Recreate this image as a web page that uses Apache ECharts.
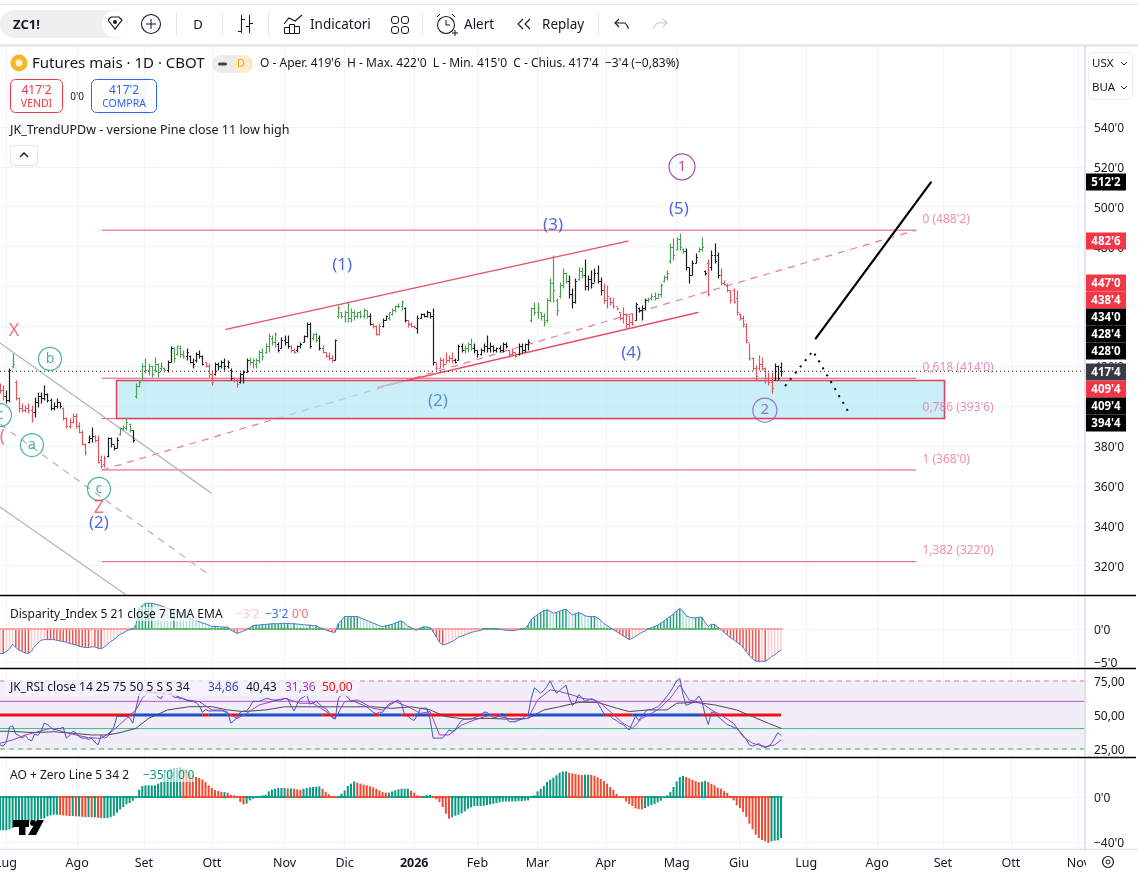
<!DOCTYPE html>
<html><head><meta charset="utf-8">
<style>html,body{margin:0;padding:0;background:#fff}#c{width:1138px;height:874px}</style>
<script src="https://cdn.jsdelivr.net/npm/echarts@6/dist/echarts.min.js"></script>
</head><body><div id="c"></div>
<script>
const FONT = '"Noto Sans","Open Sans",sans-serif';
const highs = [
411.5,410.6,408,419,426.5,413,404.8,401.4,400.6,401.4,400.6,404.8,407.3,407.3,410.6,406.4,403.9,402.3,403.9,402.3,
399.8,394.7,393.9,396.4,396.4,392.2,388,381.4,385.5,389.7,385.5,385.5,375.5,375.5,384.7,384.7,380.5,384.7,389.7,390.6,
393.9,391.4,388,411.5,413.1,421.5,424,421.5,420.7,424.5,421.5,422.3,419.8,423.2,430.2,429.9,430.7,430.7,428.2,429,
425.7,424,427.3,428.2,425.7,422.3,421.5,418.1,422.3,422.3,423.2,424,423.2,419,414.8,414,417.3,418.1,424,424.8,
424,424,428.2,429,431.5,436.5,435.7,437.4,432.4,434.9,435.7,435.7,430.7,429,430.7,432.4,435.7,442.4,442.4,436.5,
437.4,435.7,430.7,427.3,427.3,425.7,433.5,450.8,447.4,448.2,452.4,449,448.2,447.4,448.2,449,448.2,446.6,441.6,440.7,
441.6,444,445.7,447.4,449,450.8,
451.6,453.3,449.9,443.2,442.4,440.7,445.7,446.6,446.9,448.2,447.4,449.1,422.3,424.8,424,427.3,425.7,427.3,424,431.2,
431.5,430.7,432.4,434,431.9,428.2,429,431.5,435.7,432.4,430.7,429.9,430.7,432.4,432.4,428.2,429,427.3,431.5,431.5,
431.5,433.5,449.9,452.4,452.4,447.4,446.6,454.1,464.1,475.8,454.1,462.5,469.2,467.5,465.8,459.1,464.1,470,470,473.7,
465.8,468.3,469.2,470.8,465,461.6,460.8,454.9,454.9,449.9,447.4,449.9,446.6,445.7,446.6,452.4,449.9,450.8,454.1,454.9,
456.6,457.4,456.6,461.6,465.8,468.3,481.7,484.2,485,487,479.2,479.2,470,473.3,476.7,480,484.7,468.3,473.7,478.4,
481.7,477.5,469.2,463.3,461.6,458.3,459.1,458.3,446.6,445.7,441.6,431.5,424.8,420.7,425.7,424.8,419.8,417.3,417.3,421.5,
420.7,422];
const lows = [
406.5,403.1,401.4,402.3,419,403,397.2,397.2,397.2,396.4,392.2,394.7,399.8,401.4,403.1,402.3,398,398,398.9,398.9,
393.1,388.9,388.9,391.4,388.9,386.4,380.5,375.5,381.4,382.2,382.2,371.3,368.8,369.7,374.7,379.7,378,378.9,385.5,388,
388,387.2,382.2,403.9,409.8,413.1,416.5,415.6,414.8,417.3,414.8,418.1,417.3,417.3,422.3,422.3,425.7,424.8,424,423.2,
421.5,419,422.3,424,420.7,419.8,414.8,410.6,415.6,418.1,419,418.1,419,413.1,412.3,409.8,411.5,411.5,417.3,420.7,
419,419,421.5,423.2,426.5,427.3,430.7,429.9,427.3,429,430.7,429,427.3,426.5,427.3,429,432.4,434.9,429,433.2,
432.4,428.2,426.5,424.8,423.2,422.3,423.2,444,444,442.4,442.4,442.4,443.2,444,444,444,444,440.7,439,435.7,
435.7,439.9,443.2,443.2,445.7,447.4,
449.1,448.2,442.4,439.9,439.6,439,436.5,444,444.6,444.9,444,420.7,418.1,419,419.8,421.5,422.3,421.5,421.5,423.2,
427.3,426.5,427.3,428.2,426.8,424.8,425.7,427.3,427.3,427.3,427.3,427.3,427.3,427.3,429,424.8,425.7,424.8,425.7,426.5,
427.3,428.2,442.4,445.7,444,443.2,440.2,442.4,452.4,452.4,445.7,454.1,459.1,461.6,454.1,449.1,451.6,463.3,464.1,458.3,
458.3,459.1,462.5,461.6,455.8,451.6,449.1,450.8,449.1,448.2,443.2,441.6,439,439.9,440.7,443.2,447.4,443.2,448.2,452.4,
453.3,453.3,454.1,454.9,462.5,463.3,471.7,473.3,478.4,478.4,476.7,468.3,461.6,465.8,471.7,477.5,478,465.8,455.3,468.3,
471.7,464.1,460.8,460.8,457.4,451.6,451.6,445.7,443.2,439.9,431.5,423.2,418.1,413.1,418.1,418.1,411.5,410.6,406.8,413.1,
413.1,415];
const opens = [
411,408,405,403,420,412,404,399,398,399,398,397,402,405,404,406,403,399,400,402,
399,394,390,392,395,390,387,381,382,384,385,383,373,371,375,384,381,379,386,389,
389,391,388,405,410,413,420,418,420,418,421,419,419,418,422,429,426,429,426,425,
425,422,423,426,425,422,420,416,416,421,420,422,420,418,414,413,412,416,417,423,
422,421,423,427,427,430,434,432,431,429,433,432,430,428,428,430,432,435,441,434,
436,434,429,427,425,424,423,445,447,445,447,444,447,445,447,445,448,445,441,440,
436,440,443,444,446,448,
450,450,449,443,441,440,439,444,446,445,447,445,422,419,423,421,423,424,423,423,
430,428,429,431,429,428,426,428,430,429,430,428,429,428,431,428,426,427,426,430,
428,431,443,449,447,447,445,443,453,462,453,455,461,467,463,456,452,464,468,466,
460,464,462,467,463,458,453,454,452,450,447,444,446,441,442,443,449,448,449,453,
454,455,454,456,463,465,473,480,479,484,479,478,470,466,472,478,479,468,472,470,
476,476,466,462,461,458,458,454,446,444,440,432,424,419,419,421,419,413,412,413,
420,419.75];
const closes = [
408,405,403,418,421,404,399,398,399,398,397,402,405,404,406,403,399,400,402,400,
394,390,392,395,390,387,381,377,384,385,383,372,370,374,384,381,379,383,389,389.5,
392,388,383,410,412,420,418,420,416,421,417,420,418,422,429,424,430,426,425,427,
422,421,426,425,421,420,416,412,421,420,422,420,422,414,413,411,416,417,423,422,
423,423,427,425,430,435,432,436,428,433,432,430,428,427,430,431,435,441,430,436,
433,429,427,425,424,423,433,449,445,447,444,447,445,447,445,448,445,441,440,436,
440,443,445,447,448,450,
450,452,443,441,440,439.5,444,446,445,447,445,422,419,423,421,423,424,423,422,430,
428,429,431,429,428,426,428,430,429,430,428,429,428,431,430,426,427,425,430,428,
431,432,449,447,449,445,442,453,462,458,448,461,467,463,456,452,463,468,466,460,
464,462,467,463,458,453,455,452,450,449,444,446,441,442,441,451,448,449,453,453.5,
455,454,456,461,465,467,480,476,484,480,478,470,466,472,475,479,480,467,456,476,
473,466,462,461.5,458,453,452,447,444,441,433,424,419,415,421,419,413,412,409,420,
414,417.5];
const barColors = ('rrkkgrrrrrrkkkkkkkkkrrrrrrrrkkrrrrkkkkggggkggggggggggkkggggkkkkkkrrrkkkkkkrrkkkggggggggg'+
 'kkkkrrkkkkkggkrrrrkggggggggggkrrrkkggg'+
 'ggkrrrkkkkkkrrrrrrkkkgggkkkkkkkkkkkrrrkkkkggggggggggggkkkggkkkkkkrrrrrrrrrrkkkkggggggggggggkkkkggkrkkkrrrrrrrrrrrrrrrrrkkk').split('');
const disparity = [
-3.7,-3.7,-3.4,-3,-2.3,-2.8,-3.2,-3.4,-3.6,-3.7,-3.3,-2.6,-2.1,-1.7,-1.6,-1.6,-1.6,-1.6,-1.7,-1.8,
-1.9,-2,-2.2,-2.3,-2.4,-2.6,-2.7,-2.8,-2.8,-2.7,-2.7,-2.9,-3,-2.7,-2.3,-1.9,-1.6,-1.2,-.8,-.6,
-.3,-.1,0,.6,3.1,3.5,3.9,3.9,3.9,3.8,3.7,3.5,3.3,3.1,3,3,2.9,2.5,2.2,1.9,
1.7,1.4,1.3,1.1,.9,.8,.6,.4,.4,.35,.3,.3,.3,-.15,-.4,-.65,-.5,-.3,-.1,.2,
.5,.6,.6,.7,.7,.75,.8,.8,.8,.85,.85,.85,.8,.8,.75,.7,.65,.6,.6,.5,
.5,.2,.1,-.15,-.3,-.45,-.5,.85,1.3,1.9,1.9,1.9,1.9,1.9,1.7,1.5,1.3,1.1,.9,.7,
.5,.35,.5,.6,.7,.9,1.1,1.2,.9,.4,.25,-.1,-.15,.2,.35,.3,.25,-.4,-1.2,-2,
-2.4,-2.3,-2.1,-1.9,-1.6,-1.2,-1.1,-.9,-.7,-.5,-.4,-.3,-.2,0,.1,0,.1,0,-.05,-.1,
-.2,-.2,-.25,-.2,-.1,0,.1,.6,1.4,1.8,2.2,2.5,2.8,2.9,2.7,2.4,2.5,2.7,2.9,3,
2.6,2.1,2.3,2.5,2.3,2,1.9,1.9,1.9,1.7,1.3,.85,.5,.2,-.1,-.4,-.7,-1,-1.3,-1.6,
-1.4,-1.1,-.8,-.5,-.3,0,.2,.4,.6,.9,1.2,1.6,1.9,2.3,2.7,3.1,2.7,2,1.8,1.7,
1.7,1.8,1.8,1,.4,.7,.7,.3,-.1,-.5,-.9,-1.3,-1.6,-2,-2.3,-2.8,-3.4,-4,-4.5,-4.85,
-4.9,-4.85,-4.9,-4.6,-4.2,-3.9,-3.5,-3.2];
const rsiFast = [
28,27,30,41,42,36,35,33,35,32,31,36,35,38,44,43,41,39,40,40,
41,33,35,38,37,34,33,33,32,33,30,28,35,33,34,38,41,49,49,49,
49,48,44,55,65,68,68,67,67,66,63,62,67,68,66,63,63,62,62,61,
60,60,59,57,52,54,53,53,53,53,53,53,52,44,46,48,52,53,53,56,
60,60,60,61,62,62,61,61,61,61,62,62,57,53,58,62,63,65,58,59,
60,58,56,55,52,48,47,62,65,65,63,60,60,59,58,57,56,54,52,51,
52,52,55,58,59,60,61,58,50,49,47,46,50,55,55,55,47,33,33,33,
33,36,39,38,39,43,46,47,47,47,48,49,50,52,52,50,48,48,50,51,
48,45,45,45,46,47,49,50,62,70,68,66,68,71,75,70,66,68,70,72,
63,57,59,65,63,60,61,62,61,59,55,51,50,49,47,46,44,43,41,39,
44,49,46,49,52,54,54,55,56,58,61,64,67,71,75,77,65,57,58,59,
61,64,60,50,43,52,52,49,47,45,43,42,41,40,38,35,32,28,27,28,
29,27,26,27,29,33,37,35];
const rsiSmoothBars = [0,4,8,12,16,20,24,28,32,36,40,43,45,47,51,55,59,63,67,70,75,78,82,86,90,95,99,104,106,109,113,118,121,125,129,133,136,139,142,146,150,155,158,163,167,170,174,177,181,184,188,190,193,197,200,203,208,212,215,218,222,225,228,232,235,238,242,245,247];
const rsiSmooth = [29.2,31.6,35.3,37.7,40.2,37.7,35.3,33.3,32.8,39,47.5,53.7,62.3,67.2,65.9,64.7,61,59.8,53.7,53.7,47.5,51.2,57.4,59.8,62.3,58.6,58.6,51.2,47.5,59.8,61,54.9,53.7,59.8,56.1,51.2,52.5,35.3,35.3,42.6,46.3,50,48.8,46.3,47.5,61,68.4,67.2,64.7,62.3,61,58.6,52.5,43.9,40.2,47.5,53.7,62.3,72,61,58.6,53.7,50,43.9,34,29.2,26.7,27.9,31.6];
const rsiLongBars = [0,3,11,17,23,29,34,38,43,47,53,60,67,72,77,84,90,97,104,111,118,124,130,136,141,147,154,160,167,172,177,183,189,195,199,205,211,214,220,226,233,238,243,247];
const rsiLong = [38,38,37,37.7,36.5,35.3,35.3,37,40.2,47.5,53.7,56.1,56.1,53.7,52.5,53.7,56,56,56,56,56,54.9,56,53.7,48.8,47,47.5,47,47.5,53.7,56,59.3,59.3,55,52.5,53.7,53.7,58.6,59.3,57.4,53.7,48.8,43.9,40.2];
const rsiTrendStart = [0,42,64,66,72,75,102,106,118,120,127,131,136,153,155,158,160,167,191,200,222];
const rsiTrendEnd = [42,64,66,72,75,102,106,118,120,127,131,136,153,155,158,160,167,191,200,222,247];
const rsiTrendUp = [0,1,0,1,0,1,0,1,0,1,0,1,0,1,0,1,0,1,0,1,0];
const ao = [
-29.6,-29.6,-29.6,-28.7,-27.6,-26,-24.9,-23.7,-23,-22,-21.6,-21,-20.7,-19.5,-19,-17.2,-16.3,-15.7,-15.7,-16,
-16.3,-16.6,-16.9,-16.9,-17.2,-17.2,-17.5,-17.8,-17.8,-18,-18,-18.4,-18.7,-18.7,-18.7,-18,-16.6,-13.9,-11,-8.9,
-6.5,-5.3,-3.3,-.9,6.5,9.8,10.4,10.4,10.4,10.4,11.9,13.3,20.7,23.7,25.2,25.8,25.8,26.1,25.2,23.7,
21.6,19.3,17.8,16.9,15.7,13.3,10.4,8,6.2,5.3,4.4,4.4,3.9,2,1.5,0,-4.4,-6.5,-5.9,-3,
-1.5,-.9,.9,1.5,2,5,6.5,7.4,8,8,8,7.7,7.7,7.4,6.8,6.5,7.4,8,8.6,8.9,
9.2,9.5,7.4,4.4,2.4,.9,-.6,0,3,5.9,9.8,11.9,13.9,12.7,11.9,11,10.4,9.5,8.6,7.4,
5.9,4.4,3.9,3.9,5,5.9,6.8,7.4,7.4,7.4,5.6,3.9,1.5,.3,.3,1.8,2,0,-2,-4.4,
-8.9,-14.8,-19.3,-18,-16.6,-15.7,-14.5,-12.7,-10.4,-9.2,-8,-8,-8,-7.7,-7.1,-6.5,-5.9,-5.3,-4.7,-4.1,
-3.9,-3.9,-3.9,-3.9,-3.6,-3.6,-3.3,-3,-.9,1.5,5,7.4,9.8,13.3,15.4,17.2,19.3,21.6,22.8,22.8,
21.6,21,20.4,19.9,19.6,19.9,19.9,19.6,19,17.5,16,14.2,11.9,8.9,6.5,2.7,0,-.9,-3.9,-6.2,
-8,-10,-10.7,-11,-9.8,-8.3,-7.1,-6.2,-4.7,-3.3,-.6,1.5,4.4,8.9,13.9,17.5,18.7,17.8,16.6,15.4,
14.2,13.3,13.6,14.5,13.3,11.6,10.4,8.3,7.4,5.3,3.6,.9,-3,-7.4,-9.8,-13.3,-17.8,-23.7,-28.7,-33.5,
-36.4,-38.2,-39.4,-40.6,-39.4,-38.8,-38.5,-36.4];
const monthLabels = ['Lug','Ago','Set','Ott','Nov','Dic','2026','Feb','Mar','Apr','Mag','Giu','Lug','Ago','Set','Ott','Nov'];
const monthBars = [1.9,24.4,45.5,67,90,109,131,151,170,191.6,214,233.7,255,277.4,298.2,319.7,341];
const priceTicks = [320,340,360,380,400,420,440,460,480,500,520,540];
const fibLevels = [488.25,414,393.75,368,322];
const noteTexts = ['X','b','c','a','c','Z','(2)','(1)','(3)','(5)','1','(4)','(2)','2','(',"0 (488'2)","0,618 (414'0)","0,786 (393'6)","1 (368'0)","1,382 (322'0)"];
const noteBars = [4.4,15.8,0,10.1,31.3,31.3,31.3,108.2,174.9,214.7,215.7,199.6,138.5,241.9,0.8,291.6,291.6,291.6,291.6,291.6];
const notePrices = [437.7,423.7,395.5,380.5,358.5,348.9,341.5,470.8,490.9,498.9,520,426.5,402.5,398,384.5,493.4,419.4,399.3,373.2,327.6];
const noteKinds = ['red','ring','ring','ring','ring','red','blue','blue','blue','blue','purple','blue','sky','violet','red','fib','fib','fib','fib','fib'];
const tagTexts = ["512'2","482'6","447'0","438'4","434'0","428'4","428'0","417'4","409'4","409'4","394'4"];
const tagKinds = ['k','r','r','r','k','k','k','d','r','k','k'];
const tagRows = [182,241,283,300,317,334,351,372,389,406,423];

const XMAX = 1085/(781/(highs.length-1));
const panes = [{top:46,height:549},{top:596,height:72},{top:669,height:88},{top:758,height:91}];
const GRID = '#f0f3fa';
const grids = panes.map(p=>({left:0,width:1085,top:p.top,height:p.height,outerBoundsMode:'none'}));
const xAxes = panes.map((p,i)=>({
  type:'value',gridIndex:i,min:0,max:XMAX,
  axisLine:{show:false},
  axisTick:{show:false,customValues:monthBars},
  splitLine:{show:true,lineStyle:{color:GRID,width:1}},
  axisLabel:i<3?{show:false}:{show:true,customValues:monthBars,margin:8,hideOverlap:false,showMinLabel:true,showMaxLabel:true,
    color:'#131722',fontFamily:FONT,fontSize:12.5,
    formatter:v=>{const k=monthBars.indexOf(v);return k<0?'':(monthLabels[k]==='2026'?'{b|2026}':monthLabels[k]);},
    rich:{b:{fontWeight:'bold',fontFamily:FONT,fontSize:12.5,color:'#131722'}}}
}));
function yAxis(i,min,max,vals,fmt){
  return {type:'value',gridIndex:i,position:'right',min,max,scale:true,
    axisLine:{show:false},axisTick:{show:false,customValues:vals},
    splitLine:{show:true,lineStyle:{color:GRID,width:1}},
    axisLabel:{customValues:vals,margin:9,showMinLabel:true,showMaxLabel:true,
      formatter:v=>'{p|'+fmt(v)+'}',
      rich:{p:{color:'#131722',fontFamily:FONT,fontSize:12,padding:[3,0,0,0]}}}};
}
const yAxes = [
  yAxis(0,305.3,580.6,priceTicks,v=>v+"'0"),
  yAxis(1,-5.9,5,[-5,0],v=>v===0?"0'0":"−5'0"),
  yAxis(2,19.1,83.8,[25,50,75],v=>v+',00'),
  yAxis(3,-46.2,34.7,[-40,0],v=>v===0?"0'0":"−40'0")
];
const PINK='#e0527f', RED='#ec4f63', GRAY='#b4b7bf';
function seg(pane,pts,color,width,type,z){
  return {type:'line',xAxisIndex:pane,yAxisIndex:pane,data:pts,showSymbol:false,silent:true,z:z||3,clip:true,
    lineStyle:{color,width,type:type||'solid',cap:type?'butt':'round'},animation:false};
}
const barTone={r:'#e8525a',g:'#4c9f50',k:'#1a1c22'};
const series=[];
fibLevels.forEach(v=>series.push(seg(0,[[32.3,v],[289.7,v]],PINK,1)));
series.push(seg(0,[[32.3,368],[289.7,488.25]],'#e77c9e',1.2,[7,6]));
series.push(seg(0,[[71.5,438.5],[198.6,482.75]],RED,1.5));
series.push(seg(0,[[119.5,409.5],[220.7,447]],RED,1.5));
// translucent zone, above the trend lines and under the price bars
series.push({type:'custom',xAxisIndex:0,yAxisIndex:0,z:3.5,clip:true,data:[[36.7,413,298.5,393.75]],
  renderItem:(p,api)=>{const a=api.coord([api.value(0),api.value(1)]),b=api.coord([api.value(2),api.value(3)]);
    return {type:'rect',shape:{x:Math.round(a[0])+.5,y:Math.round(a[1])+.5,width:Math.round(b[0]-a[0]),height:Math.round(b[1]-a[1])},
      style:{fill:'rgba(178,232,242,.68)',stroke:'#e23f5e',lineWidth:1.5}};}});
series.push(seg(0,[[0,431.7],[66.7,356.5]],GRAY,1.3));
series.push(seg(0,[[0,391],[65.8,315.8]],GRAY,1.3,[7,6]));
series.push(seg(0,[[0,349.4],[39.5,305.8]],GRAY,1.3));
series.push(seg(0,[[0,417.5],[XMAX,417.5]],'#222',1,[1,3]));
// OHLC
series.push({type:'custom',xAxisIndex:0,yAxisIndex:0,z:4,clip:true,
  data:highs.map((h,i)=>[i,opens[i],h,lows[i],closes[i]]),
  renderItem:(p,api)=>{
    const i=api.value(0),x=Math.round(api.coord([i,0])[0])+.5,c=barTone[barColors[p.dataIndex]]||'#000';
    const Y=v=>Math.round(api.coord([i,v])[1])+.5;
    const st={stroke:c,lineWidth:1.2};
    return {type:'group',children:[
      {type:'line',shape:{x1:x,y1:Y(api.value(2)),x2:x,y2:Y(api.value(3))},style:st},
      {type:'line',shape:{x1:x-1.5,y1:Y(api.value(1)),x2:x,y2:Y(api.value(1))},style:st},
      {type:'line',shape:{x1:x,y1:Y(api.value(4)),x2:x+1.5,y2:Y(api.value(4))},style:st}]};
  }});
series.push(seg(0,[[258,434],[294.4,512.25]],'#000',2.2,'',5));
series.push(seg(0,[[248.3,410.1],[257.1,427.7],[268.5,396.6]],'#000',2,[2,6],5));
// annotations
const noteStyle={red:{c:'#e8505f',f:18},blue:{c:'#1f46d6',f:17},sky:{c:'#3d78e2',f:17},purple:{c:'#9420a8',f:15,ring:26},violet:{c:'#7a58c2',f:15,ring:24},ring:{c:'#1f9d8a',f:14,ring:23},fib:{c:'#e8709f',f:12}};
series.push({type:'scatter',xAxisIndex:0,yAxisIndex:0,z:6,clip:false,silent:true,
  data:noteTexts.map((t,i)=>{const s=noteStyle[noteKinds[i]];return {
    value:[noteBars[i],notePrices[i]],
    symbol:'circle',symbolSize:s.ring||1,
    itemStyle:s.ring?{color:'rgba(255,255,255,0)',borderColor:s.c,borderWidth:1.2}:{color:'rgba(0,0,0,0)'},
    label:{show:true,position:noteKinds[i]==='fib'?'right':'inside',distance:0,formatter:t,color:s.c,fontSize:s.f,fontFamily:FONT}};})});
// histograms
function histogram(pane,arr,width,colorFn){
  return {type:'custom',xAxisIndex:pane,yAxisIndex:pane,z:2,clip:true,data:arr.map((v,i)=>[i,v]),
    renderItem:(p,api)=>{const a=api.coord([api.value(0),0]),b=api.coord([api.value(0),api.value(1)]);
      return {type:'rect',shape:{x:a[0]-width/2,y:Math.min(a[1],b[1]),width,height:Math.abs(b[1]-a[1])},style:{fill:colorFn(api.value(1),p.dataIndex)}};}};
}
function zeroStrip(pane,arr,colorFn){
  return {type:'custom',xAxisIndex:pane,yAxisIndex:pane,z:3,clip:true,data:arr.map((v,i)=>[i,v]),
    renderItem:(p,api)=>{const i=api.value(0),a=api.coord([i-.5,0]),b=api.coord([i+.5,0]);
      return {type:'rect',shape:{x:a[0],y:a[1]-1,width:b[0]-a[0],height:2},style:{fill:colorFn(api.value(1),p.dataIndex)}};}};
}
series.push(histogram(1,disparity,1.5,(v,i)=>{const grow=i>0&&Math.abs(v)>=Math.abs(disparity[i-1]);
    return v<0?(grow?'#ef5350':'#fbcdd0'):(grow?'#26a17f':'#b2dfdb');}));
series.push(seg(1,disparity.map((v,i)=>[i,v]),'#4a78cf',1,'',4));
series.push(zeroStrip(1,disparity,v=>v<0?'#fa9e9e':'#5fb36a'));
// rsi
series.push({type:'custom',xAxisIndex:2,yAxisIndex:2,z:1,clip:true,data:[[0,75,XMAX,25]],
  renderItem:(p,api)=>{const a=api.coord([api.value(0),api.value(1)]),b=api.coord([api.value(2),api.value(3)]);
    return {type:'rect',shape:{x:a[0],y:a[1],width:b[0]-a[0],height:b[1]-a[1]},style:{fill:'#f1edf9'}};}});
series.push(seg(2,[[0,75],[XMAX,75]],'#e57c7c',1,[5,4]));
series.push(seg(2,[[0,25],[XMAX,25]],'#4ca25a',1,[5,4]));
series.push(seg(2,[[0,60],[XMAX,60]],'#c24fd6',1));
series.push(seg(2,[[0,40],[XMAX,40]],'#36c27f',1));
series.push({type:'custom',xAxisIndex:2,yAxisIndex:2,z:3,clip:true,
  data:rsiTrendStart.map((s,i)=>[s,rsiTrendEnd[i],50,rsiTrendUp[i]]),
  renderItem:(p,api)=>{const a=api.coord([api.value(0),api.value(2)]),b=api.coord([api.value(1),api.value(2)]);
    return {type:'rect',shape:{x:a[0],y:a[1]-1.5,width:b[0]-a[0],height:3},style:{fill:api.value(3)?'#1d4ec9':'#f01010'}};}});
series.push(seg(2,rsiLongBars.map((b,i)=>[b,rsiLong[i]]),'#4a4a52',1,'',4));
series.push(seg(2,rsiSmoothBars.map((b,i)=>[b,rsiSmooth[i]]),'#a03fc4',1,'',4));
series.push(seg(2,rsiFast.map((v,i)=>[i,v]),'#4656b8',1,'',5));
// AO
const aoColor=(v,i)=>(i===0||v>=ao[i-1])?'#089981':'#f0492f';
series.push(histogram(3,ao,2,aoColor));
series.push(zeroStrip(3,ao,aoColor));

// chrome
const G=[];
const T=(text,x,y,o={})=>G.push({type:'text',z:100,silent:true,x,y:y+1,style:{text,fill:o.c||'#131722',font:(o.w||'normal')+' '+(o.s||13)+'px '+(o.f||FONT),textAlign:o.a||'left',textVerticalAlign:'middle',textBaseline:'middle'}});
const R=(x,y,w,h,o={})=>G.push({type:'rect',z:o.z||90,silent:true,shape:{x,y,width:w,height:h,r:o.r||0},style:{fill:o.fill||'none',stroke:o.stroke||null,lineWidth:o.lw||1}});
const L=(x1,y1,x2,y2,c,w,z)=>G.push({type:'line',z:z||90,silent:true,shape:{x1,y1,x2,y2},style:{stroke:c,lineWidth:w||1}});
const C=(cx,cy,r,o={})=>G.push({type:'circle',z:o.z||91,silent:true,shape:{cx,cy,r},style:{fill:o.fill||'none',stroke:o.stroke||null,lineWidth:o.lw||1}});
const P=(pts,c,w,fill)=>G.push({type:'polyline',z:91,silent:true,shape:{points:pts},style:{stroke:c,lineWidth:w||1,fill:fill||'none'}});
// toolbar
L(0,4.5,1138,4.5,'#e6e6e6',1);
R(0,44,1138,3,{fill:'#e8e8e8'});
R(0,10,128,28,{fill:'#f0f0f0',r:14});
T('ZC1!',13,24,{w:'bold',s:13});
C(115,24,13,{fill:'#fff'});
P([[108,20],[111,17],[119,17],[122,20],[115,29],[108,20]],'#131722',1.2);C(115,22,2,{fill:'#131722'});
C(151,24,9.5,{stroke:'#131722',lw:1.1});L(146,24,156,24,'#131722');L(151,19,151,29,'#131722');
[176,222,268,422,598].forEach(x=>L(x+.5,12,x+.5,36,'#e6e6e6'));
T('D',198,24,{s:13,a:'center'});
L(241.5,15,241.5,33,'#131722');L(238,31.5,241.5,31.5,'#131722');L(241.5,19.5,245,19.5,'#131722');
L(249.5,15,249.5,33,'#131722');L(246,26.5,249.5,26.5,'#131722');L(249.5,23.5,253,23.5,'#131722');
P([[284,24],[289,18],[295,21],[302,15]],'#131722',1.1);
R(284.5,27.5,5,6,{stroke:'#131722'});R(289.5,24.5,5,9,{stroke:'#131722'});R(294.5,26.5,5,7,{stroke:'#131722'});
T('Indicatori',310,24,{s:13.5});
[[391,16],[401,16],[391,26],[401,26]].forEach(p=>R(p[0]+.5,p[1]+.5,7,7,{stroke:'#131722',r:2.5}));
C(446,25,8.5,{stroke:'#131722',lw:1.1});L(446,20,446,25,'#131722');L(446,25,450,25,'#131722');
L(437,17,440,14,'#131722');L(455,17,452,14,'#131722');L(452,33,458,33,'#131722');L(455,30,455,36,'#131722');
T('Alert',464,24,{s:13.5});
P([[523,19],[518,24],[523,29]],'#131722',1.1);P([[530,19],[525,24],[530,29]],'#131722',1.1);
T('Replay',542,24,{s:13.5});
P([[619,19],[615,23],[619,27]],'#131722',1.1);P([[615,23],[625,23],[628,27],[628,29]],'#131722',1.1);
P([[663,19],[667,23],[663,27]],'#c8cad0',1.1);P([[667,23],[657,23],[654,27],[654,29]],'#c8cad0',1.1);
// header
C(19,63,8.5,{fill:'#f6b52e'});C(19,63,3.5,{fill:'#fff2c8'});
T('Futures mais · 1D · CBOT',32,63,{s:15});
R(212,55,41,18,{fill:'#ececec',r:9});R(233,55,20,18,{fill:'#fdeccb',r:9});
R(218,62.5,9,3,{fill:'#444',r:1.5});T('D',241,63,{s:11,c:'#ef9f1e',a:'center'});
T("O - Aper. 419'6  H - Max. 422'0  L - Min. 415'0  C - Chius. 417'4  −3'4 (−0,83%)",260,63,{s:12});
R(10.5,79.5,52,33,{stroke:'#f23645',r:5});R(91.5,79.5,65,33,{stroke:'#2962ff',r:5});
T("417'2",36.5,90,{s:12,c:'#f23645',a:'center'});T('VENDI',36.5,103,{s:10.5,c:'#f23645',a:'center'});
T("417'2",124,90,{s:12,c:'#2962ff',a:'center'});T('COMPRA',124,103,{s:10.5,c:'#2962ff',a:'center'});
T("0'0",77,96,{s:10,a:'center'});
T('JK_TrendUPDw - versione Pine close 11 low high',10,129,{s:12.5});
R(10.5,145.5,27,20,{fill:'#fff',stroke:'#e0e3eb',r:3});P([[20,157],[24,153],[28,157]],'#131722',1.4);
// right column
L(1085,46,1085,849,'#dcdee3',1.6);
R(1088.5,52.5,44,47,{fill:'#fff',stroke:'#ececec',r:5});
T('USX',1092,63,{s:11.5});T('BUA',1092,87,{s:11.5});
P([[1121,62],[1124,65],[1127,62]],'#131722',1);P([[1121,86],[1124,89],[1127,86]],'#131722',1);
const tagFill={k:'#000',r:'#f23645',d:'#363a45'};
tagTexts.forEach((t,i)=>{R(1086,tagRows[i]-8.5,40,17,{fill:tagFill[tagKinds[i]],z:95});T(t,1106,tagRows[i],{s:11.5,w:'bold',c:'#fff',a:'center'});});
// pane separators
L(0,595.5,1136,595.5,'#000',1.6);L(0,668.5,1136,668.5,'#000',1.6);L(0,757.5,1136,757.5,'#000',1.6);
L(0,849.5,1138,849.5,'#e0e3eb',1.5);
R(1086,850,52,24,{fill:'#fff',z:95});
C(1108,862,5.5,{stroke:'#131722',lw:1.2,z:96});C(1108,862,2,{stroke:'#131722',z:96});
// pane legends
R(4,607,288,14,{fill:'rgba(255,255,255,.62)',z:50});
T('Disparity_Index 5 21 close 7 EMA EMA',10,614,{s:12});
T("−3'2",236,614,{s:12,c:'#f8c9cc'});T("−3'2",265,614,{s:12,c:'#3f6fd8'});T("0'0",292,614,{s:12,c:'#ef6b6b'});
R(4,680,354,16,{fill:'rgba(245,243,251,.75)',z:50});
T('JK_RSI close 14 25 75 50 5 S S 34',10,687,{s:12});
T('34,86',208,687,{s:12,c:'#3b4fb4'});T('40,43',246,687,{s:12});T('31,36',285,687,{s:12,c:'#a03fc4'});T('50,00',322,687,{s:12,c:'#f01010'});
R(4,768,190,14,{fill:'rgba(255,255,255,.62)',z:50});
T('AO + Zero Line 5 34 2',10,775,{s:12});T("−35'0",143,775,{s:12,c:'#089981'});T("0'0",178,775,{s:12,c:'#089981'});
// TV logo
G.push({type:'polygon',z:95,silent:true,shape:{points:[[13,820],[29,820],[29,827],[25.5,827],[25.5,835],[19,835],[19,827],[13,827]]},style:{fill:'#000'}});
C(33,823,3,{fill:'#000',z:95});
G.push({type:'polygon',z:95,silent:true,shape:{points:[[37,820],[44,820],[36,835],[28,835]]},style:{fill:'#000'}});

const chart=echarts.init(document.getElementById('c'),null,{width:1138,height:874});
chart.setOption({animation:false,backgroundColor:'#fff',textStyle:{fontFamily:FONT},
  grid:grids,xAxis:xAxes,yAxis:yAxes,series,graphic:{elements:G}});
</script></body></html>
